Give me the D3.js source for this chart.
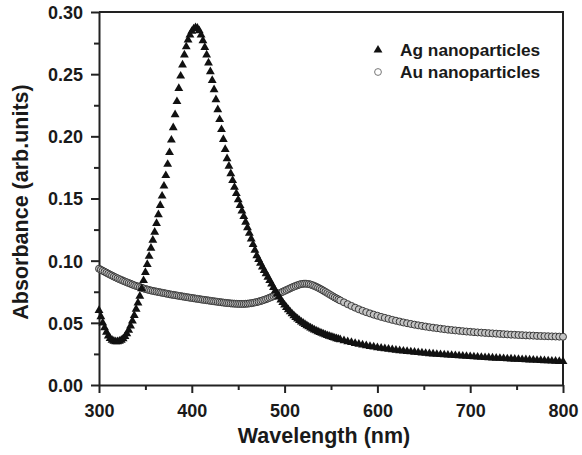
<!DOCTYPE html>
<html>
<head>
<meta charset="utf-8">
<script src="https://cdn.jsdelivr.net/npm/d3@7"></script>
<style>
  body { margin: 0; background: #fff; }
  svg { font-family: "Liberation Sans", Arial, sans-serif; font-weight: bold; }
  .tick text { font-size: 18px; fill: #1a1a1a; }
  .axis path, .axis line { stroke: #222; stroke-width: 2; }
  .title { font-size: 21.5px; fill: #1a1a1a; }
  .legend { font-size: 17.3px; fill: #1a1a1a; }
</style>
</head>
<body>
<div class="chart"></div>
<script>
// wavelength samples (nm)
const wavelengths = [
  300,302,304,306,308,310,312,314,316,318,320,322,324,326,328,330,332,334,336,338,
  340,342,344,346,348,350,352,354,356,358,360,362,364,366,368,370,372,374,376,378,
  380,382,384,386,388,390,392,394,396,398,400,402,404,406,408,410,412,414,416,418,
  420,422,424,426,428,430,432,434,436,438,440,442,444,446,448,450,452,454,456,458,
  460,462,464,466,468,470,472,474,476,478,480,482,484,486,488,490,492,494,496,498,
  500,502,504,506,508,510,512,514,516,518,520,522,524,526,528,530,532,534,536,538,
  540,542,544,546,548,550,552,554,556,558,560,
  564,568,572,576,580,584,588,592,596,600,604,608,612,616,620,624,628,632,636,640,
  644,648,652,656,660,664,668,672,676,680,684,688,692,696,700,704,708,712,716,720,
  724,728,732,736,740,744,748,752,756,760,764,768,772,776,780,784,788,792,796,800
];

const agValues = [
  0.060,0.055,0.050,0.046,0.0425,0.0395,0.0375,0.036,0.0352,0.0348,0.0348,0.0352,0.036,0.0372,0.039,0.0412,0.044,0.0475,0.0515,0.056,
  0.061,0.066,0.0715,0.0775,0.084,0.0905,0.097,0.1035,0.110,0.1165,0.123,0.130,0.137,0.1445,0.152,0.160,0.1685,0.1775,0.187,0.197,
  0.207,0.2175,0.228,0.2385,0.2485,0.2575,0.2655,0.272,0.2775,0.2815,0.2845,0.2865,0.2875,0.287,0.285,0.2815,0.277,0.2715,0.2655,0.259,
  0.252,0.245,0.2375,0.2295,0.2215,0.2135,0.2055,0.1975,0.1895,0.182,0.176,0.170,0.1645,0.159,0.154,0.149,0.1445,0.140,0.1355,0.131,
  0.1265,0.122,0.1175,0.113,0.1085,0.104,0.101,0.098,0.095,0.0922,0.0895,0.0868,0.084,0.0812,0.0785,0.0758,0.0732,0.0708,0.0685,0.0663,
  0.0643,0.0624,0.0606,0.0589,0.0573,0.0558,0.0544,0.0531,0.0519,0.0508,0.0497,0.0487,0.0477,0.0468,0.0459,0.0451,0.0443,0.0436,0.0429,0.0422,
  0.0416,0.041,0.0404,0.0398,0.0393,0.0388,0.0383,0.0378,0.0373,0.0369,0.0365,
  0.0357,0.0349,0.0342,0.0335,0.0329,0.0323,0.0317,0.0311,0.0306,0.0301,0.0296,0.0292,0.0288,0.0284,0.028,0.0276,0.0273,0.027,0.0267,0.0264,
  0.0261,0.0258,0.0255,0.0252,0.025,0.0247,0.0245,0.0243,0.0241,0.0239,0.0237,0.0235,0.0233,0.0231,0.0229,0.0227,0.0225,0.0223,0.0221,0.022,
  0.0218,0.0216,0.0215,0.0213,0.0211,0.021,0.0208,0.0207,0.0205,0.0204,0.0202,0.0201,0.0199,0.0198,0.0196,0.0195,0.0193,0.0192,0.019,0.0189
];

const auValues = [
  0.0935,0.0927,0.0919,0.0911,0.0903,0.0895,0.0887,0.0880,0.0872,0.0865,0.0858,0.0851,0.0845,0.0838,0.0832,0.0826,0.0820,0.0814,0.0808,0.0802,
  0.0797,0.0792,0.0787,0.0782,0.0777,0.0772,0.0768,0.0764,0.0760,0.0757,0.0754,0.0751,0.0748,0.0745,0.0742,0.0739,0.0736,0.0733,0.0730,0.0727,
  0.0725,0.0722,0.0720,0.0717,0.0715,0.0712,0.0710,0.0707,0.0705,0.0702,0.0700,0.0698,0.0695,0.0693,0.0691,0.0688,0.0686,0.0684,0.0682,0.0680,
  0.0677,0.0675,0.0673,0.0671,0.0669,0.0667,0.0665,0.0663,0.0661,0.0659,0.0658,0.0656,0.0655,0.0654,0.0653,0.0652,0.0652,0.0652,0.0652,0.0653,
  0.0654,0.0656,0.0658,0.0661,0.0664,0.0667,0.0671,0.0675,0.0680,0.0685,0.0690,0.0696,0.0702,0.0708,0.0715,0.0722,0.0729,0.0736,0.0743,0.0750,
  0.0757,0.0764,0.0771,0.0778,0.0785,0.0791,0.0797,0.0803,0.0808,0.0812,0.0814,0.0815,0.0814,0.0812,0.0808,0.0803,0.0797,0.0790,0.0783,0.0775,
  0.0767,0.0758,0.0749,0.0740,0.0731,0.0722,0.0713,0.0704,0.0696,0.0688,0.0680,
  0.0665,0.0650,0.0636,0.0622,0.0609,0.0597,0.0586,0.0576,0.0566,0.0557,0.0548,0.0540,0.0532,0.0524,0.0517,0.0510,0.0503,0.0497,0.0491,0.0485,
  0.0480,0.0475,0.0470,0.0465,0.0461,0.0457,0.0453,0.0449,0.0445,0.0442,0.0439,0.0436,0.0433,0.0430,0.0428,0.0425,0.0423,0.0421,0.0419,0.0417,
  0.0415,0.0413,0.0411,0.0409,0.0407,0.0405,0.0404,0.0402,0.0401,0.0399,0.0398,0.0397,0.0395,0.0394,0.0393,0.0392,0.0391,0.0390,0.0389,0.0388
];

const xTicks = [300, 400, 500, 600, 700, 800];
const xMinor = [350, 450, 550, 650, 750];
const yTicks = [0, 0.05, 0.10, 0.15, 0.20, 0.25, 0.30];
const yMinor = [0.025, 0.075, 0.125, 0.175, 0.225, 0.275];
const seriesNames = ["Ag nanoparticles", "Au nanoparticles"];

const width = 582, height = 455;
const margin = {left: 99, right: 19, top: 12, bottom: 70};

const svg = d3.select(".chart").append("svg")
    .attr("width", width)
    .attr("height", height);

const x = d3.scaleLinear().domain([300, 800]).range([margin.left, width - margin.right]);
const y = d3.scaleLinear().domain([0, 0.30]).range([height - margin.bottom, margin.top]);

// minor ticks first, under the axes
svg.append("g")
    .attr("class", "axis")
    .attr("transform", `translate(0,${y(0)})`)
    .call(d3.axisBottom(x).tickValues(xMinor).tickSize(5).tickFormat(""))
    .call(g => g.select(".domain").remove());

svg.append("g")
    .attr("class", "axis")
    .attr("transform", `translate(${x(300)},0)`)
    .call(d3.axisLeft(y).tickValues(yMinor).tickSize(5).tickFormat(""))
    .call(g => g.select(".domain").remove());

const xAxis = svg.append("g")
    .attr("class", "axis")
    .attr("transform", `translate(0,${y(0)})`)
    .call(d3.axisBottom(x).tickValues(xTicks).tickSize(8).tickSizeOuter(0).tickPadding(11));

const yAxis = svg.append("g")
    .attr("class", "axis")
    .attr("transform", `translate(${x(300)},0)`)
    .call(d3.axisLeft(y).tickValues(yTicks).tickSize(8).tickSizeOuter(0).tickPadding(8)
        .tickFormat(d3.format(".2f")));

yAxis.selectAll(".tick text").attr("dy", "0.36em");

// top and right frame
svg.append("path")
    .attr("d", `M${x(300)},${y(0.30)} L${x(800)},${y(0.30)} L${x(800)},${y(0)}`)
    .attr("fill", "none")
    .attr("stroke", "#222")
    .attr("stroke-width", 2);

const agData = wavelengths.map((w, i) => ({w: w, v: agValues[i]}));
const auData = wavelengths.map((w, i) => ({w: w, v: auValues[i]}));

const tri = d3.symbol().type(d3.symbolTriangle).size(34);

svg.append("g").selectAll("circle")
    .data(auData)
    .join("circle")
    .attr("cx", d => x(d.w))
    .attr("cy", d => y(d.v))
    .attr("r", 3.5)
    .attr("fill", "#c4c4c4")
    .attr("stroke", "#3a3a3a")
    .attr("stroke-width", 1);

svg.append("g").selectAll("path")
    .data(agData)
    .join("path")
    .attr("d", tri)
    .attr("transform", d => `translate(${x(d.w)},${y(d.v)})`)
    .attr("fill", "#111");

// legend
const legend = svg.append("g");
legend.append("path")
    .attr("d", tri)
    .attr("transform", "translate(378,50)")
    .attr("fill", "#111");
legend.append("circle")
    .attr("cx", 378)
    .attr("cy", 72)
    .attr("r", 3.4)
    .attr("fill", "#fff")
    .attr("stroke", "#777")
    .attr("stroke-width", 1);
legend.selectAll("text")
    .data(seriesNames)
    .join("text")
    .attr("class", "legend")
    .attr("x", 400)
    .attr("y", (d, i) => 56 + i * 22)
    .text(d => d);

// axis titles
svg.append("text")
    .attr("class", "title")
    .attr("x", 324)
    .attr("y", 443)
    .attr("text-anchor", "middle")
    .text("Wavelength (nm)");

svg.append("text")
    .attr("class", "title")
    .attr("transform", "translate(28,202) rotate(-90)")
    .attr("text-anchor", "middle")
    .text("Absorbance (arb.units)");
</script>
</body>
</html>
